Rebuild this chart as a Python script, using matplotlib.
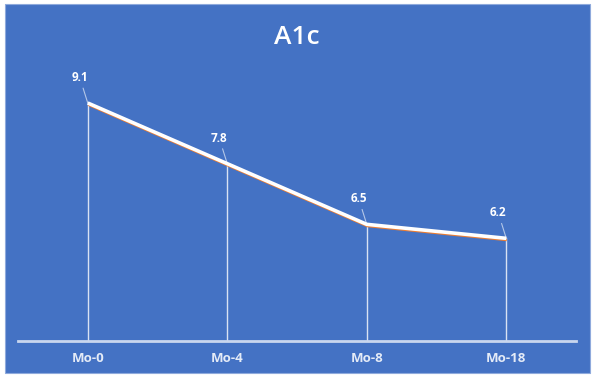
import matplotlib
matplotlib.use("Agg")
import matplotlib.pyplot as plt
import matplotlib.transforms as mtransforms
from matplotlib.patches import Rectangle

categories = ["Mo-0", "Mo-4", "Mo-8", "Mo-18"]
values = [9.1, 7.8, 6.5, 6.2]

W, H = 595, 379
fig = plt.figure(figsize=(W/100, H/100), dpi=100)
fig.patch.set_facecolor("white")
blue = "#4472C4"

bg = fig.add_axes([0, 0, 1, 1])
bg.set_axis_off()
bg.set_xlim(0, W)
bg.set_ylim(H, 0)
bg.add_patch(Rectangle((5, 4), 585, 369, facecolor=blue, edgecolor="#8FAADC", lw=0.8))
bg.set_zorder(0)

# axes: x from 18 to 578 px, y bottom at 341 px (value 4), top at 61 (value 10)
ax = fig.add_axes([18/W, 1-341/H, 558/W, 280/H])
ax.set_zorder(1)
ax.set_facecolor("none")
x = list(range(len(categories)))
ax.set_xlim(-0.5, len(categories)-0.5)
ax.set_ylim(4, 10)

for xi, v in zip(x, values):
    ax.plot([xi, xi], [4, v], color="white", lw=1.0, alpha=0.8, zorder=2)

shadow = mtransforms.offset_copy(ax.transData, fig=fig, x=0.4, y=-1.1, units="points")
ax.plot(x, values, color="#ED7D31", lw=2.0, transform=shadow, zorder=3, solid_capstyle="butt")
ax.plot(x, values, color="white", lw=2.6, zorder=4, solid_capstyle="butt")

for xi, v in zip(x, values):
    ax.annotate(f"{v}", xy=(xi, v), xytext=(-8, 19), textcoords="offset pixels",
                ha="center", va="bottom", color="white", fontsize=8.5, fontweight="bold",
                family="Open Sans",
                arrowprops=dict(arrowstyle="-", color="#B4C7E7", lw=0.8, shrinkA=1, shrinkB=0))

for s in ["left", "right", "top"]:
    ax.spines[s].set_visible(False)
ax.spines["bottom"].set_color("#C9D6EE")
ax.spines["bottom"].set_linewidth(2)
ax.set_yticks([])
ax.set_xticks(x)
ax.set_xticklabels(categories, color="#E4EBF7", fontsize=9.5, fontweight="bold", family="Open Sans")
ax.tick_params(axis="x", length=0, pad=8)

fig.text(297/W, 1-37/H, "A1c", ha="center", va="center", color="white",
         fontsize=19, fontweight="semibold", family="Open Sans")

fig.savefig("out.png", dpi=100, facecolor=fig.get_facecolor())
